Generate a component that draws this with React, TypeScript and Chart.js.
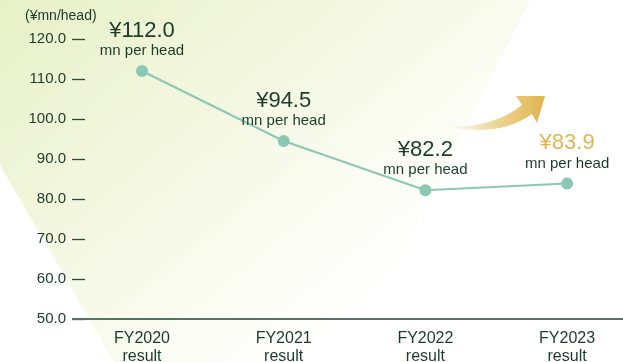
import React, { useEffect, useRef } from "react";
import { Chart, registerables } from "chart.js";

Chart.register(...registerables);

const categories: string[][] = [
  ["FY2020", "result"],
  ["FY2021", "result"],
  ["FY2022", "result"],
  ["FY2023", "result"],
];
const values: number[] = [112.0, 94.5, 82.2, 83.9];
const valueLabels: string[] = ["¥112.0", "¥94.5", "¥82.2", "¥83.9"];
const subLabel = "mn per head";
const unitLabel = "(¥mn/head)";

const FONT = '"Liberation Sans", Arial, Helvetica, sans-serif';
const TEXT = "#1b3a2a";
const GOLD = "#dfb552";
const LINE = "#8cc6b4";

const decorPlugin = {
  id: "decor",
  beforeDraw(chart: any) {
    const ctx = chart.ctx;
    ctx.save();
    const g = ctx.createLinearGradient(0, 0, 300, 362);
    g.addColorStop(0, "#e7f0c6");
    g.addColorStop(0.45, "#f3f7e0");
    g.addColorStop(0.85, "#fcfdf6");
    g.addColorStop(1, "#ffffff");
    ctx.fillStyle = g;
    ctx.beginPath();
    ctx.moveTo(0, 165);
    ctx.lineTo(0, 0);
    ctx.lineTo(530, 0);
    ctx.lineTo(347, 362);
    ctx.lineTo(114, 362);
    ctx.closePath();
    ctx.fill();

    // curved arrow
    const ag = ctx.createLinearGradient(450, 0, 545, 0);
    ag.addColorStop(0, "rgba(240,222,175,0.2)");
    ag.addColorStop(0.5, "rgba(232,200,120,0.8)");
    ag.addColorStop(1, "#dfb24c");
    ctx.fillStyle = ag;
    ctx.beginPath();
    ctx.moveTo(449, 127);
    ctx.quadraticCurveTo(495, 127, 522, 105);
    ctx.lineTo(516, 96);
    ctx.lineTo(545, 96);
    ctx.lineTo(537, 123);
    ctx.lineTo(532, 114);
    ctx.quadraticCurveTo(500, 137, 449, 127);
    ctx.closePath();
    ctx.fill();
    ctx.restore();
  },
  afterDraw(chart: any) {
    const ctx = chart.ctx;
    const area = chart.chartArea;
    ctx.save();
    // baseline
    ctx.strokeStyle = "#5b7064";
    ctx.lineWidth = 2;
    ctx.beginPath();
    ctx.moveTo(area.left - 13, area.bottom);
    ctx.lineTo(chart.width, area.bottom);
    ctx.stroke();

    // unit label
    ctx.fillStyle = TEXT;
    ctx.font = `14px ${FONT}`;
    ctx.textAlign = "left";
    ctx.textBaseline = "middle";
    ctx.fillText(unitLabel, 25, 16);

    // data labels
    const meta = chart.getDatasetMeta(0);
    meta.data.forEach((pt: any, i: number) => {
      ctx.textAlign = "center";
      ctx.textBaseline = "middle";
      ctx.fillStyle = i === values.length - 1 ? GOLD : TEXT;
      ctx.font = `22px ${FONT}`;
      ctx.fillText(valueLabels[i], pt.x, pt.y - 40);
      ctx.fillStyle = TEXT;
      ctx.font = `15px ${FONT}`;
      ctx.fillText(subLabel, pt.x, pt.y - 20);
    });
    ctx.restore();
  },
};

export default function App() {
  const ref = useRef<HTMLCanvasElement | null>(null);
  useEffect(() => {
    if (!ref.current) return;
    const chart = new Chart(ref.current, {
      type: "line",
      data: {
        datasets: [
          {
            data: values.map((v, i) => ({ x: i, y: v })),
            borderColor: LINE,
            borderWidth: 2,
            pointBackgroundColor: LINE,
            pointBorderColor: LINE,
            pointRadius: 5,
            tension: 0,
          },
        ],
      },
      options: {
        animation: false,
        responsive: true,
        maintainAspectRatio: false,
        layout: { padding: { top: 39, right: 0, left: 0, bottom: 0 } },
        plugins: { legend: { display: false }, tooltip: { enabled: false } },
        scales: {
          x: {
            type: "linear",
            min: -0.402,
            max: 3.345,
            afterBuildTicks: (scale: any) => {
              scale.ticks = categories.map((_, i) => ({ value: i }));
            },
            afterFit: (scale: any) => {
              scale.height = 43;
            },
            grid: { display: false, drawTicks: false },
            border: { display: false },
            ticks: {
              padding: 10,
              color: TEXT,
              font: { family: FONT, size: 16, lineHeight: 1.15 },
              maxRotation: 0,
              autoSkip: false,
              callback: (v: any) => categories[Math.round(Number(v))] ?? "",
            },
          },
          y: {
            min: 50,
            max: 120,
            afterFit: (scale: any) => {
              scale.width = 85;
            },
            grid: {
              drawOnChartArea: false,
              drawTicks: true,
              tickLength: 13,
              tickColor: "#2f4a3b",
              tickWidth: 1.3,
            },
            border: { display: false },
            ticks: {
              stepSize: 10,
              padding: 6,
              color: TEXT,
              font: { family: FONT, size: 15 },
              callback: (v: any) => Number(v).toFixed(1),
            },
          },
        },
      },
      plugins: [decorPlugin],
    });
    return () => chart.destroy();
  }, []);
  return (
    <div style={{ position: "fixed", left: 0, top: 0, width: 623, height: 362, background: "#fff" }}>
      <canvas ref={ref} />
    </div>
  );
}
